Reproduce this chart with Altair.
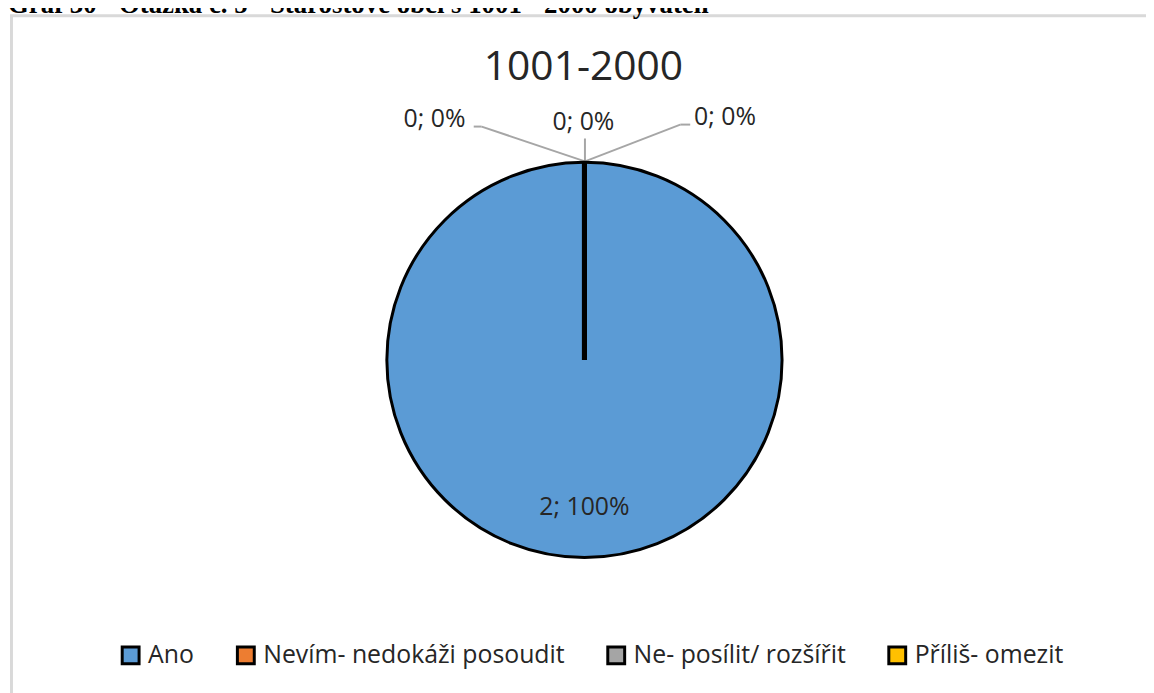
import altair as alt
import pandas as pd

# ---- data ----
CATEGORIES = ["Ano", "Nevím- nedokáži posoudit", "Ne- posílit/ rozšířit", "Příliš- omezit"]
COUNTS = [2, 0, 0, 0]
COLORS = ["#5b9bd5", "#ed7d31", "#a5a5a5", "#ffc000"]
TITLE = "1001-2000"
CAPTION = "Graf 30 - Otázka č. 5 - Starostové obcí s 1001 - 2000 obyvateli"

# ---- layout (pixels, svg coordinates) ----
W, H = 1146, 685
CX, CY = 580.5, 352
R = 199
INNER_LABEL_R = 148
FONT = "Open Sans"
TXT = "#262626"
# outside label anchors for zero slices (x center, baseline y)
OUT_POS = {
    "Nevím- nedokáži posoudit": (429.5, 117),
    "Ne- posílit/ rozšířit": (579.5, 120),
    "Příliš- omezit": (722, 115),
}
# leader line segments (x, y, x2, y2)
LEADERS = [
    (469, 117, 477, 117), (477, 117, 581, 152),
    (581, 129, 581, 152),
    (581, 152, 677, 115), (677, 115, 687, 115),
]

total = sum(COUNTS)
labels = [f"{c}; {round(100 * c / total)}%" for c in COUNTS]
df = pd.DataFrame({"cat": CATEGORIES, "value": COUNTS, "label": labels,
                   "order": list(range(len(CATEGORIES)))})

out_rows = []
for cat, val, lab in zip(CATEGORIES, COUNTS, labels):
    if val == 0:
        px, py = OUT_POS[cat]
        out_rows.append({"cat": cat, "label": lab, "px": px, "py": py})
out_df = pd.DataFrame(out_rows)

one = pd.DataFrame({"k": [0]})

color = alt.Color(
    "cat:N",
    sort=CATEGORIES,
    scale=alt.Scale(domain=CATEGORIES, range=COLORS),
    legend=alt.Legend(
        title=None, orient="none", legendX=111, legendY=637,
        direction="horizontal", symbolType="square", symbolSize=289,
        symbolStrokeWidth=3, symbolStrokeColor="black", symbolOpacity=1,
        labelFont=FONT, labelFontSize=25, labelColor=TXT, labelOffset=5,
        columnPadding=37, labelLimit=0, padding=0,
    ),
)

frame = alt.Chart(one).mark_rect(fillOpacity=0, stroke="#d9d9d9", strokeWidth=3).encode(
    x=alt.value(3.5), x2=alt.value(1300), y=alt.value(5.5), y2=alt.value(900)
)

caption = alt.Chart(one).mark_text(
    text=CAPTION, font="Liberation Serif", fontWeight="bold", fontSize=27,
    align="left", baseline="alphabetic", color="black"
).encode(x=alt.value(0), y=alt.value(2.5))

title = alt.Chart(one).mark_text(
    text=TITLE, font=FONT, fontSize=41, align="center", baseline="alphabetic", color=TXT
).encode(x=alt.value(579.5), y=alt.value(70))

leaders = [
    alt.Chart(one).mark_rule(color="#a6a6a6", strokeWidth=2).encode(
        x=alt.value(a), y=alt.value(b), x2=alt.value(c), y2=alt.value(d)
    )
    for (a, b, c, d) in LEADERS
]

arc = alt.Chart(df).mark_arc(radius=R, stroke="black").encode(
    theta=alt.Theta("value:Q", stack=True),
    color=color,
    order=alt.Order("order:Q"),
    strokeWidth=alt.condition("datum.value == 0", alt.value(5), alt.value(3)),
    x=alt.value(CX), y=alt.value(CY),
)

inner = alt.Chart(df).transform_filter("datum.value > 0").mark_text(
    radius=INNER_LABEL_R, font=FONT, fontSize=25, color=TXT, baseline="middle"
).encode(
    theta=alt.Theta("value:Q", stack=True),
    text="label:N",
    x=alt.value(CX), y=alt.value(CY),
)

outer = alt.Chart(out_df).mark_text(
    font=FONT, fontSize=25, color=TXT, align="center", baseline="alphabetic"
).encode(
    x=alt.X("px:Q", scale=None, axis=None),
    y=alt.Y("py:Q", scale=None, axis=None),
    text="label:N",
)

chart = alt.layer(frame, caption, title, *leaders, arc, inner, outer).properties(
    width=W, height=H, autosize=alt.AutoSizeParams(type="none"), padding=0,
    background="white",
).configure_view(stroke=None)

chart.save("out.html", embed_options={"renderer": "svg", "actions": False})
